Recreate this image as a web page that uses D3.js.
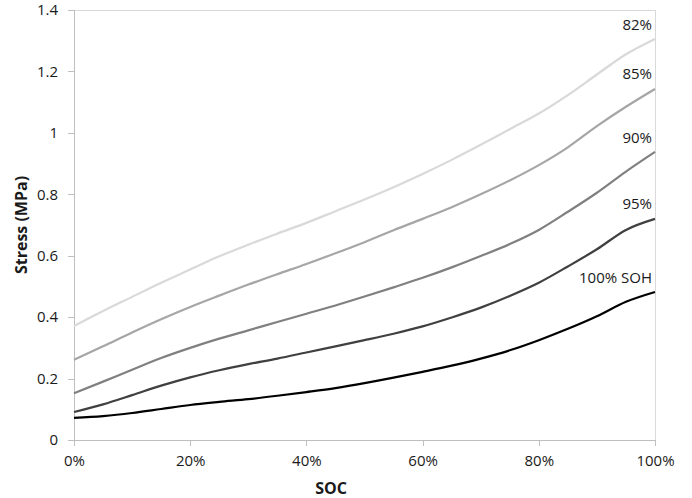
<!DOCTYPE html>
<html>
<head>
<meta charset="utf-8">
<script src="https://cdn.jsdelivr.net/npm/d3@7"></script>
<style>
  html, body { margin: 0; padding: 0; background: #fff; }
  svg { display: block; }
  text { font-family: "Open Sans", "Liberation Sans", sans-serif; fill: #1a1a1a; }
</style>
</head>
<body>
<svg id="chart" width="692" height="498"></svg>
<script>
// State of charge (fraction) at which stress was evaluated
const soc = [0, 0.05, 0.10, 0.15, 0.20, 0.25, 0.30, 0.35, 0.40, 0.45, 0.50,
             0.55, 0.60, 0.65, 0.70, 0.75, 0.80, 0.85, 0.90, 0.95, 1.00];

// Stress (MPa) for each state of health
const soh82  = [0.371, 0.420, 0.466, 0.512, 0.555, 0.598, 0.636, 0.672, 0.707, 0.745, 0.783,
                0.823, 0.866, 0.912, 0.961, 1.012, 1.063, 1.123, 1.190, 1.256, 1.306];
const soh85  = [0.261, 0.305, 0.350, 0.393, 0.433, 0.470, 0.506, 0.540, 0.573, 0.608, 0.644,
                0.683, 0.720, 0.758, 0.800, 0.845, 0.895, 0.953, 1.022, 1.085, 1.143];
const soh90  = [0.152, 0.190, 0.229, 0.267, 0.300, 0.330, 0.357, 0.384, 0.411, 0.438, 0.467,
                0.497, 0.528, 0.562, 0.599, 0.638, 0.684, 0.743, 0.805, 0.874, 0.938];
const soh95  = [0.091, 0.116, 0.146, 0.177, 0.204, 0.227, 0.247, 0.265, 0.285, 0.305, 0.325,
                0.346, 0.370, 0.399, 0.431, 0.469, 0.512, 0.565, 0.621, 0.684, 0.720];
const soh100 = [0.072, 0.078, 0.088, 0.101, 0.114, 0.124, 0.133, 0.144, 0.156, 0.169, 0.185,
                0.203, 0.222, 0.242, 0.265, 0.292, 0.325, 0.362, 0.403, 0.450, 0.482];

const seriesNames = ["82%", "85%", "90%", "95%", "100% SOH"];
const seriesColors = ["#d9d9d9", "#a6a6a6", "#808080", "#404040", "#000000"];
const seriesValues = [soh82, soh85, soh90, soh95, soh100];

const xTicks = [0, 0.2, 0.4, 0.6, 0.8, 1.0];
const yTicks = [0, 0.2, 0.4, 0.6, 0.8, 1.0, 1.2, 1.4];

const svg = d3.select("#chart");
const plotLeft = 74, plotRight = 655, plotTop = 10, plotBottom = 440;

const x = d3.scaleLinear().domain([0, 1]).range([plotLeft, plotRight]);
const y = d3.scaleLinear().domain([0, 1.4]).range([plotBottom, plotTop]);

const axisColor = "#bfbfbf";

// plot frame (top and right edges)
svg.append("path")
  .attr("d", `M${plotLeft},${plotTop}H${plotRight}V${plotBottom}`)
  .attr("fill", "none")
  .attr("stroke", "#d9d9d9")
  .attr("stroke-width", 1)
  .attr("shape-rendering", "crispEdges");

// y axis
const yAxis = svg.append("g")
  .attr("transform", `translate(${plotLeft},0)`)
  .call(d3.axisLeft(y).tickValues(yTicks).tickSize(6).tickPadding(10)
        .tickFormat(d => d3.format("~g")(d)));
yAxis.selectAll("path, line").attr("stroke", axisColor).attr("shape-rendering", "crispEdges");
yAxis.select(".domain").attr("d", `M0,${plotTop}V${plotBottom}`);
yAxis.selectAll("text").attr("font-size", 15).attr("font-family", "'Open Sans', sans-serif").attr("fill", "#1a1a1a");

// x axis
const xAxis = svg.append("g")
  .attr("transform", `translate(0,${plotBottom})`)
  .call(d3.axisBottom(x).tickValues(xTicks).tickSize(6).tickPadding(9)
        .tickFormat(d3.format(".0%")));
xAxis.selectAll("path, line").attr("stroke", axisColor).attr("shape-rendering", "crispEdges");
xAxis.select(".domain").attr("d", `M${plotLeft},0H${plotRight}`);
xAxis.selectAll("text").attr("font-size", 15).attr("font-family", "'Open Sans', sans-serif").attr("fill", "#1a1a1a");

// axis titles
svg.append("text")
  .attr("transform", `translate(27,225) rotate(-90)`)
  .attr("text-anchor", "middle")
  .attr("font-size", 16)
  .attr("font-weight", "bold")
  .text("Stress (MPa)");

svg.append("text")
  .attr("x", 331)
  .attr("y", 494)
  .attr("text-anchor", "middle")
  .attr("font-size", 16)
  .attr("font-weight", "bold")
  .text("SOC");

// curves
const line = d3.line()
  .x((d, i) => x(soc[i]))
  .y(d => y(d))
  .curve(d3.curveMonotoneX);

svg.append("g")
  .selectAll("path")
  .data(seriesValues)
  .join("path")
  .attr("d", d => line(d))
  .attr("fill", "none")
  .attr("stroke", (d, i) => seriesColors[i])
  .attr("stroke-width", 2.2)
  .attr("stroke-linejoin", "round");

// series labels near the right end of each curve
const labelOffset = [-9, -10, -9, -10, -9];
svg.append("g")
  .selectAll("text")
  .data(seriesValues)
  .join("text")
  .attr("x", plotRight - 3)
  .attr("y", (d, i) => y(d[d.length - 1]) + labelOffset[i])
  .attr("text-anchor", "end")
  .attr("font-size", 15)
  .text((d, i) => seriesNames[i]);
</script>
</body>
</html>
